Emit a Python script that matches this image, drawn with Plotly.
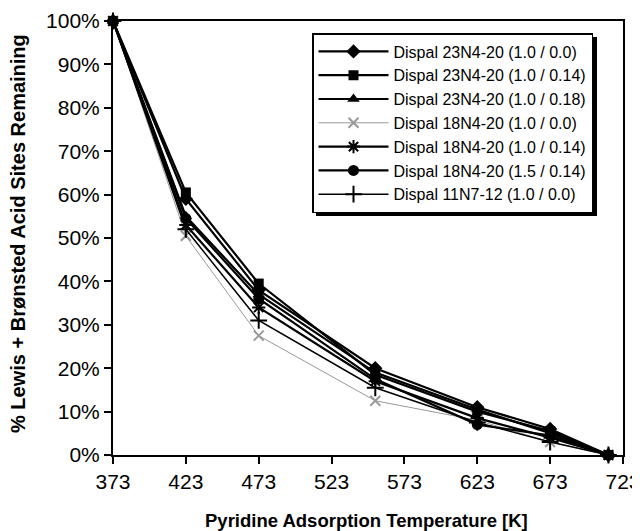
import plotly.graph_objects as go

temps = [373, 423, 473, 553, 623, 673, 713]
names = [
    "Dispal 23N4-20 (1.0 / 0.0)",
    "Dispal 23N4-20 (1.0 / 0.14)",
    "Dispal 23N4-20 (1.0 / 0.18)",
    "Dispal 18N4-20 (1.0 / 0.0)",
    "Dispal 18N4-20 (1.0 / 0.14)",
    "Dispal 18N4-20 (1.5 / 0.14)",
    "Dispal 11N7-12 (1.0 / 0.0)",
]
s_23_00 = [100, 59, 38, 20, 11, 6, 0]
s_23_14 = [100, 60.5, 39.5, 18.5, 10, 5.5, 0]
s_23_18 = [100, 55, 37, 19, 10.5, 5, 0]
s_18_00 = [100, 50.5, 27.5, 12.5, 8, 3, 0]
s_18_14 = [100, 53, 34, 17, 8.5, 4, 0]
s_18_1514 = [100, 54.5, 36, 17.5, 7, 4.5, 0]
s_11_00 = [100, 52, 31, 15.5, 7.5, 3, 0]
series = [s_23_00, s_23_14, s_23_18, s_18_00, s_18_14, s_18_1514, s_11_00]

x_ticks = [373, 423, 473, 523, 573, 623, 673, 723]
y_ticks = [0, 10, 20, 30, 40, 50, 60, 70, 80, 90, 100]

x_title = "<b>Pyridine Adsorption Temperature [K]</b>"
y_title = "<b>% Lewis + Brønsted Acid Sites Remaining</b>"

styles = [
    dict(symbol="diamond", size=11, color="black", lw=2.2),
    dict(symbol="square", size=10, color="black", lw=2.2),
    dict(symbol="triangle-up", size=11, color="black", lw=2.2),
    dict(symbol="x-thin-open", size=10, color="#999999", lw=1),
    dict(symbol="asterisk-open", size=11, color="black", lw=2.2),
    dict(symbol="circle", size=11, color="black", lw=2.2),
    dict(symbol="cross-thin-open", size=12, color="black", lw=1.5),
]

fig = go.Figure()
for nm, ys, st in zip(names, series, styles):
    fig.add_trace(go.Scatter(
        x=temps, y=[v / 100 for v in ys], name=nm, mode="lines+markers",
        line=dict(color=st["color"], width=st["lw"]),
        marker=dict(symbol=st["symbol"], size=st["size"], color=st["color"],
                    line=dict(color=st["color"], width=2 if "open" in st["symbol"] else 0)),
    ))

font = "Liberation Sans, Arial, sans-serif"
OFF = 8  # page body margin
W, H = 640 - OFF, 531 - OFF
# plot area in screen pixels: left 113, right 623, top 21, bottom 455
ml, mt = 113 - OFF, 21 - OFF
mr = W - (623 - OFF)
mb = H - (455 - OFF)
pw, ph = W - ml - mr, H - mt - mb

def px2paper(x, y):
    return (x - OFF - ml) / pw, (H - mb - (y - OFF)) / ph

lx0, ly0 = px2paper(312, 33)
sx0, sy0 = px2paper(316, 37)
sx1, sy1 = px2paper(597, 216)

fig.add_shape(type="rect", xref="paper", yref="paper", x0=sx0, y0=sy1, x1=sx1, y1=sy0,
              fillcolor="black", line=dict(width=0), layer="above")

tx, ty = px2paper(366, 520)
yx, yy = px2paper(18, 234)
fig.add_annotation(text=x_title, xref="paper", yref="paper", x=tx, y=ty,
                   xanchor="center", yanchor="middle",
                   showarrow=False, font=dict(size=18.5, family=font, color="black"))
fig.add_annotation(text=y_title, xref="paper", yref="paper", x=yx, y=yy, textangle=-90,
                   xanchor="center", yanchor="middle",
                   showarrow=False, font=dict(size=20, family=font, color="black"))

fig.update_layout(
    width=W, height=H,
    margin=dict(l=ml, r=mr, t=mt, b=mb, autoexpand=False),
    paper_bgcolor="white", plot_bgcolor="white",
    font=dict(family=font, size=21, color="black"),
    showlegend=True,
    legend=dict(x=lx0, y=ly0, xanchor="left", yanchor="top",
                bgcolor="white", bordercolor="black", borderwidth=1.5,
                font=dict(family=font, size=16, color="black"),
                itemwidth=70, tracegroupgap=0),
    xaxis=dict(range=[373, 723], tickvals=x_ticks, ticktext=[str(t) for t in x_ticks],
               showgrid=False, zeroline=False, showline=True, linecolor="black", linewidth=2,
               mirror=True, ticks="outside", ticklen=7, tickwidth=2, tickcolor="black",
               automargin=False, ticklabeloverflow="allow"),
    yaxis=dict(range=[0, 1], tickvals=[v / 100 for v in y_ticks], tickformat=".0%",
               showgrid=False, zeroline=False, showline=True, linecolor="black", linewidth=2,
               mirror=True, ticks="outside", ticklen=7, tickwidth=2, tickcolor="black",
               automargin=False, ticklabeloverflow="allow"),
)
fig.update_traces(cliponaxis=False)
fig.write_html("out.html")
